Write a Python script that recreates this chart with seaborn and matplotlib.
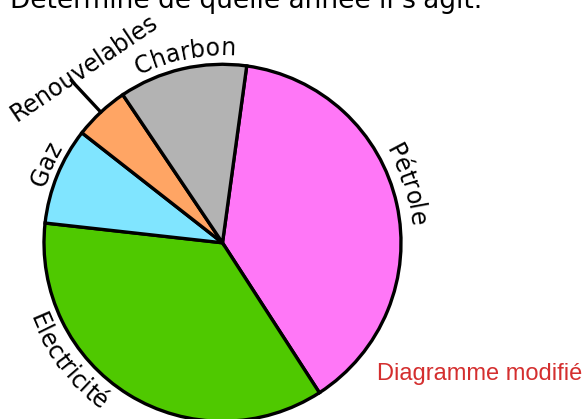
import numpy as np
import seaborn as sns
import matplotlib
matplotlib.use("Agg")
import matplotlib.pyplot as plt

sns.set_style("white")
plt.rcParams["font.family"] = ["DejaVu Sans"]
plt.rcParams["text.color"] = "black"

# data, clockwise from the top
labels = ["Pétrole", "Electricité", "Gaz", "Renouvelables", "Charbon"]
values = [38.7, 35.9, 8.8, 5.0, 11.6]
colors = ["#ff77f7", "#4fc900", "#80e5ff", "#ffa564", "#b3b3b3"]

title = "Détermine de quelle année il s'agit."
note = "Diagramme modifié"

W, H = 587, 419
CX, CY, R = 222.5, 242.8, 178.5   # pie centre and radius, in pixels
FS = 17

fig = plt.figure(figsize=(W / 100, H / 100), dpi=100)
ax = fig.add_axes([(CX - R) / W, (H - CY - R) / H, 2 * R / W, 2 * R / H])

pal = sns.color_palette(colors)
wedges, _ = ax.pie(values, colors=pal, startangle=82.2, counterclock=False,
                   radius=1,
                   wedgeprops=dict(edgecolor="black", linewidth=2.4))
ax.set_xlim(-1, 1)
ax.set_ylim(-1, 1)
ax.axis("off")

renderer = fig.canvas.get_renderer()


def text_width(s):
    if not s:
        return 0.0
    t = fig.text(0, 0, s, fontsize=FS)
    w = t.get_window_extent(renderer).width
    t.remove()
    return w


def arc_text(label, angle, radius, outward=True):
    """Write label along the pie rim, one glyph at a time."""
    cum = [text_width(label[:i]) for i in range(len(label) + 1)]
    total = cum[-1]
    rpx = radius * R
    for i, ch in enumerate(label):
        s = (cum[i] + cum[i + 1]) / 2 - total / 2
        d = np.degrees(s / rpx)
        if outward:
            th = angle - d
            rot = th - 90
        else:
            th = angle + d
            rot = th + 90
        x = radius * np.cos(np.radians(th))
        y = radius * np.sin(np.radians(th))
        ax.text(x, y, ch, rotation=rot, rotation_mode="anchor",
                ha="center", va="baseline", fontsize=FS, color="black",
                clip_on=False)


# label placement: (angle, baseline radius, tops outward?)
label_pos = {
    "Pétrole": (17.5, 1.055, True),
    "Electricité": (217.5, 1.16, False),
    "Gaz": (156.0, 1.04, True),
    "Charbon": (101.3, 1.05, True),
}
for lab in labels:
    if lab in label_pos:
        a, r, out = label_pos[lab]
        arc_text(lab, a, r, out)

# Renouvelables: straight label with a leader line
i = labels.index("Renouvelables")
w = wedges[i]
mid = np.radians((w.theta1 + w.theta2) / 2)
ax.plot([np.cos(mid), 1.245 * np.cos(mid)], [np.sin(mid), 1.245 * np.sin(mid)],
        color="black", lw=2.4, clip_on=False)
ax.text(-0.776, 0.979, "Renouvelables", rotation=34, rotation_mode="anchor",
        ha="center", va="center", fontsize=FS, color="black", clip_on=False)

fig.text(10 / W, 1 - 8.5 / H, title, fontsize=19, color="black",
         ha="left", va="baseline")
fig.text(377 / W, 1 - 380 / H, note, fontsize=17, color="#d42f2f",
         family="Liberation Sans", ha="left", va="baseline")

fig.savefig("out.png", dpi=100)
